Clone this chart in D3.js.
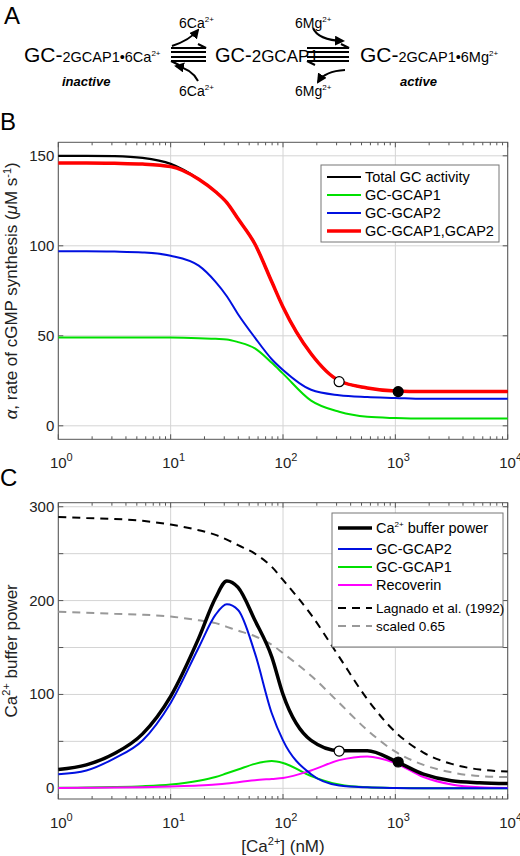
<!DOCTYPE html>
<html lang="en">
<head>
<meta charset="UTF-8" />
<title>GC activity and Ca buffer power</title>
<style>
  body { margin: 0; background: #fff; }
  svg { font-family: "Liberation Sans", Arial, sans-serif; }
</style>
</head>
<body>
<svg width="520" height="856"></svg>
<script src="https://d3js.org/d3.v7.min.js"></script>
<script>
// log10 of [Ca2+] (nM) sample grid shared by all curves
const logCa = [0,0.25,0.5,0.75,1,1.25,1.4,1.5,1.6,1.75,1.9,2,2.25,2.5,2.75,3,3.25,3.5,3.75,4];

// Panel B: rate of cGMP synthesis
const totalGC = [150,150,149.8,148.8,145.5,137,130,124,115,101,80,66,40,25,21,19.3,19,19,19,19];
const gcap12 = [146,146,145.8,145.4,144,137,130,124,115,101,80,66,40,25,21,19.3,19,19,19,19];
const gcap2B = [97,97,96.8,96.3,94.5,89,80,72,62,49,37,31,20,17,16,15.5,15,15,15,15];
const gcap1B = [49,49,49,49,49,48.7,48.3,48,46.5,43,35,29,14,7.8,5,4.3,4,4,4,4];
const pointsB = [{x: 316, y: 24.5, fill: "#fff"}, {x: 1060, y: 19, fill: "#000"}];

// Panel C: Ca2+ buffer power
const bufferPower = [20,25,37,58,98,160,203,221,214,179,140,100,51,40,40,29,15,8,6,5];
const gcap2C = [15,19,32,51,91,150,185,196,190,144,80,51,15,3,1,0.3,0,0,0,0];
const gcap1C = [0.5,0.8,1.3,2.2,4,8,12,16,20,26,29,27,13,4,1,0.3,0.1,0,0,0];
const recoverin = [0.3,0.5,0.8,1.2,2,3,4,5,6.5,8.5,10,11,19,30,34,27,12,4,1,0.3];
const lagnado = [289,288,287,285,281,275,270,265,259,250,236,222,185,140,95,60,38,26,20,18];
const scaled065 = [188,187,186,185,183,179,176,172,168,162,153,144,120,91,62,39,25,17,13,12];
const pointsC = [{x: 316, y: 39.7, fill: "#fff"}, {x: 1060, y: 28, fill: "#000"}];

const xTicks = [1, 10, 100, 1000, 10000];

const svg = d3.select("svg");

// ---------- Panel A: reaction scheme ----------
const A = svg.append("g");
A.append("text").attr("x", 4).attr("y", 24).attr("font-size", 24).text("A");

function species(x, y, tail, sup) {
  const t = A.append("text").attr("x", x).attr("y", y);
  t.append("tspan").attr("font-size", 21).text("GC-");
  t.append("tspan").attr("font-size", 14.5).text(tail);
  if (sup) t.append("tspan").attr("font-size", 8).attr("dy", -6).text(sup);
}
species(24, 62, "2GCAP1•6Ca", "2+");
const mid = A.append("text").attr("x", 215).attr("y", 62);
mid.append("tspan").attr("font-size", 20).text("GC-");
mid.append("tspan").attr("font-size", 17).text("2GCAP1");
species(360, 62, "2GCAP1•6Mg", "2+");

function ion(x, y, base) {
  const t = A.append("text").attr("x", x).attr("y", y).attr("font-size", 14).text(base);
  t.append("tspan").attr("font-size", 8).attr("dy", -6).text("2+");
}
ion(179, 28, "6Ca");
ion(179, 96, "6Ca");
ion(295, 28, "6Mg");
ion(295, 96, "6Mg");

A.append("text").attr("x", 62).attr("y", 86).attr("font-size", 13)
  .attr("font-weight", "bold").attr("font-style", "italic").text("inactive");
A.append("text").attr("x", 400).attr("y", 86).attr("font-size", 13)
  .attr("font-weight", "bold").attr("font-style", "italic").text("active");

const defs = svg.append("defs");
defs.append("marker").attr("id", "ah").attr("viewBox", "0 0 10 10")
  .attr("refX", 8).attr("refY", 5).attr("markerWidth", 5).attr("markerHeight", 5)
  .attr("orient", "auto").append("path").attr("d", "M0,0L10,5L0,10z").attr("fill", "#000");

function equil(x0, x1, y) {
  A.append("path").attr("d", `M${x0},${y}H${x1}l-8,-4`).attr("fill", "none").attr("stroke", "#000").attr("stroke-width", 2);
  A.append("path").attr("d", `M${x0},${y + 4}H${x1}`).attr("stroke", "#000").attr("stroke-width", 2);
  A.append("path").attr("d", `M${x0},${y + 9}H${x1}`).attr("stroke", "#000").attr("stroke-width", 2);
  A.append("path").attr("d", `M${x0},${y + 13}H${x1}m-${x1 - x0},0l8,4`).attr("fill", "none").attr("stroke", "#000").attr("stroke-width", 2);
}
equil(171, 206, 48);
equil(307, 349, 48);

const arrow = (d) => A.append("path").attr("d", d).attr("fill", "none")
  .attr("stroke", "#000").attr("stroke-width", 2).attr("marker-end", "url(#ah)");
arrow("M172,46 Q190,40 198,30");
arrow("M198,81 Q192,69 176,66");
arrow("M313,28 Q318,40 343,41");
arrow("M345,70 Q325,71 318,82");

// ---------- line chart helper ----------
function panel(opts) {
  const m = opts.box;
  const x = d3.scaleLog().domain([1, 10000]).range([m.left, m.right]);
  const y = d3.scaleLinear().domain(opts.yDomain).range([m.bottom, m.top]);
  const g = svg.append("g");

  g.append("text").attr("x", 0).attr("y", opts.letterY).attr("font-size", 24).text(opts.letter);

  // grid
  g.selectAll(".gx").data(xTicks).enter().append("line")
    .attr("x1", (d) => x(d)).attr("x2", (d) => x(d))
    .attr("y1", m.top).attr("y2", m.bottom).attr("stroke", "#d4d4d4");
  g.selectAll(".gy").data(opts.yGrid).enter().append("line")
    .attr("y1", (d) => y(d)).attr("y2", (d) => y(d))
    .attr("x1", m.left).attr("x2", m.right).attr("stroke", "#d4d4d4");

  // ticks (inside, MATLAB style)
  const minor = [];
  for (let e = 0; e < 4; e++) for (let k = 2; k <= 9; k++) minor.push(k * 10 ** e);
  [[m.bottom, -1], [m.top, 1]].forEach(([yy, s]) => {
    g.selectAll(null).data(xTicks).enter().append("line")
      .attr("x1", (d) => x(d)).attr("x2", (d) => x(d)).attr("y1", yy).attr("y2", yy + s * 5)
      .attr("stroke", "#555");
    g.selectAll(null).data(minor).enter().append("line")
      .attr("x1", (d) => x(d)).attr("x2", (d) => x(d)).attr("y1", yy).attr("y2", yy + s * 3)
      .attr("stroke", "#555");
  });
  [[m.left, 1], [m.right, -1]].forEach(([xx, s]) => {
    g.selectAll(null).data(opts.yGrid).enter().append("line")
      .attr("y1", (d) => y(d)).attr("y2", (d) => y(d)).attr("x1", xx).attr("x2", xx + s * 5)
      .attr("stroke", "#555");
  });

  // tick labels
  const xl = g.selectAll(null).data(xTicks).enter().append("text")
    .attr("x", (d) => x(d) + 3).attr("y", m.bottom + 29).attr("text-anchor", "middle")
    .attr("font-size", 15).attr("fill", "#222");
  xl.append("tspan").text("10");
  xl.append("tspan").attr("font-size", 11).attr("dy", -7).text((d) => Math.log10(d));
  g.selectAll(null).data(opts.yLabels).enter().append("text")
    .attr("x", m.left - 4).attr("y", (d) => y(d) + 5).attr("text-anchor", "end")
    .attr("font-size", 15).attr("fill", "#222").text((d) => d);

  // box
  g.append("rect").attr("x", m.left).attr("y", m.top)
    .attr("width", m.right - m.left).attr("height", m.bottom - m.top)
    .attr("fill", "none").attr("stroke", "#555");

  const line = d3.line().x((d, i) => x(10 ** logCa[i])).y((d) => y(d)).curve(d3.curveMonotoneX);
  const plot = g.append("g");
  opts.series.forEach((s) => {
    plot.append("path").datum(s.values).attr("d", line).attr("fill", "none")
      .attr("stroke", s.color).attr("stroke-width", s.width)
      .attr("stroke-dasharray", s.dash || null);
  });
  plot.selectAll("circle").data(opts.points).enter().append("circle")
    .attr("cx", (d) => x(d.x)).attr("cy", (d) => y(d.y)).attr("r", 5)
    .attr("fill", (d) => d.fill).attr("stroke", "#000").attr("stroke-width", 1.2);

  // legend
  const L = opts.legend;
  g.append("rect").attr("x", L.x).attr("y", L.y).attr("width", L.w).attr("height", L.h)
    .attr("fill", "#fff").attr("stroke", "#777");
  opts.legendItems.forEach((s, i) => {
    const yy = L.y + 12 + L.rows[i];
    g.append("line").attr("x1", L.x + 6).attr("x2", L.x + 40).attr("y1", yy).attr("y2", yy)
      .attr("stroke", s.color).attr("stroke-width", s.width).attr("stroke-dasharray", s.dash || null);
    const t = g.append("text").attr("x", L.x + 44).attr("y", yy + 5).attr("font-size", s.fs || 14.5);
    if (s.sup) {
      t.append("tspan").text("Ca");
      t.append("tspan").attr("font-size", 8).attr("dy", -6).text("2+");
      t.append("tspan").attr("dy", 6).text(" buffer power");
    } else t.text(s.label);
  });

  // axis title
  g.append("text").attr("transform", `translate(${opts.yTitleX},${(m.top + m.bottom) / 2}) rotate(-90)`)
    .attr("text-anchor", "middle").attr("font-size", 17).attr("fill", "#222").call(opts.yTitle);
  return { x, y, g };
}

// ---------- Panel B ----------
panel({
  box: { left: 58.3, right: 507.7, top: 142.3, bottom: 439.3 },
  yDomain: [-7.5, 157.5], yGrid: [0, 50, 100, 150], yLabels: [0, 50, 100, 150],
  letter: "B", letterY: 130, yTitleX: 17,
  series: [
    { values: totalGC, color: "#000", width: 2.2 },
    { values: gcap1B, color: "#00e000", width: 2 },
    { values: gcap2B, color: "#0010e0", width: 2 },
    { values: gcap12, color: "#ff0000", width: 3.5 },
  ],
  points: pointsB,
  legend: { x: 321, y: 165, w: 178, h: 77, rows: [0, 18, 36, 54] },
  legendItems: [
    { label: "Total GC activity", color: "#000", width: 2 },
    { label: "GC-GCAP1", color: "#00e000", width: 2 },
    { label: "GC-GCAP2", color: "#0010e0", width: 2 },
    { label: "GC-GCAP1,GCAP2", color: "#ff0000", width: 3.5 },
  ],
  yTitle: (t) => {
    t.append("tspan").attr("font-style", "italic").text("α");
    t.append("tspan").text(", rate of cGMP synthesis (");
    t.append("tspan").attr("font-style", "italic").text("μ");
    t.append("tspan").text("M s");
    t.append("tspan").attr("font-size", 11).attr("dy", -6).text("-1");
    t.append("tspan").attr("dy", 6).text(")");
  },
});

// ---------- Panel C ----------
const C = panel({
  box: { left: 58.3, right: 507.7, top: 502.7, bottom: 799 },
  yDomain: [-11.4, 304.3], yGrid: [0, 50, 100, 150, 200, 250, 300], yLabels: [0, 100, 200, 300],
  letter: "C", letterY: 486, yTitleX: 17,
  series: [
    { values: lagnado, color: "#000", width: 2, dash: "8,6" },
    { values: scaled065, color: "#999", width: 2, dash: "8,6" },
    { values: gcap1C, color: "#00e000", width: 2 },
    { values: recoverin, color: "#ff00ff", width: 2 },
    { values: gcap2C, color: "#0010e0", width: 2 },
    { values: bufferPower, color: "#000", width: 3.5 },
  ],
  points: pointsC,
  legend: { x: 332, y: 513, w: 171, h: 134, rows: [3, 24, 42, 60, 83, 101] },
  legendItems: [
    { sup: true, color: "#000", width: 3.5 },
    { label: "GC-GCAP2", color: "#0010e0", width: 2 },
    { label: "GC-GCAP1", color: "#00e000", width: 2 },
    { label: "Recoverin", color: "#ff00ff", width: 2 },
    { label: "Lagnado et al. (1992)", color: "#000", width: 2, dash: "8,6", fs: 13.5 },
    { label: "scaled 0.65", color: "#999", width: 2, dash: "8,6", fs: 13.5 },
  ],
  yTitle: (t) => {
    t.append("tspan").text("Ca");
    t.append("tspan").attr("font-size", 11).attr("dy", -7).text("2+");
    t.append("tspan").attr("dy", 7).text(" buffer power");
  },
});

const xt = C.g.append("text").attr("x", 283).attr("y", 852).attr("text-anchor", "middle")
  .attr("font-size", 17).attr("fill", "#222");
xt.append("tspan").text("[Ca");
xt.append("tspan").attr("font-size", 11).attr("dy", -7).text("2+");
xt.append("tspan").attr("dy", 7).text("] (nM)");
</script>
</body>
</html>
